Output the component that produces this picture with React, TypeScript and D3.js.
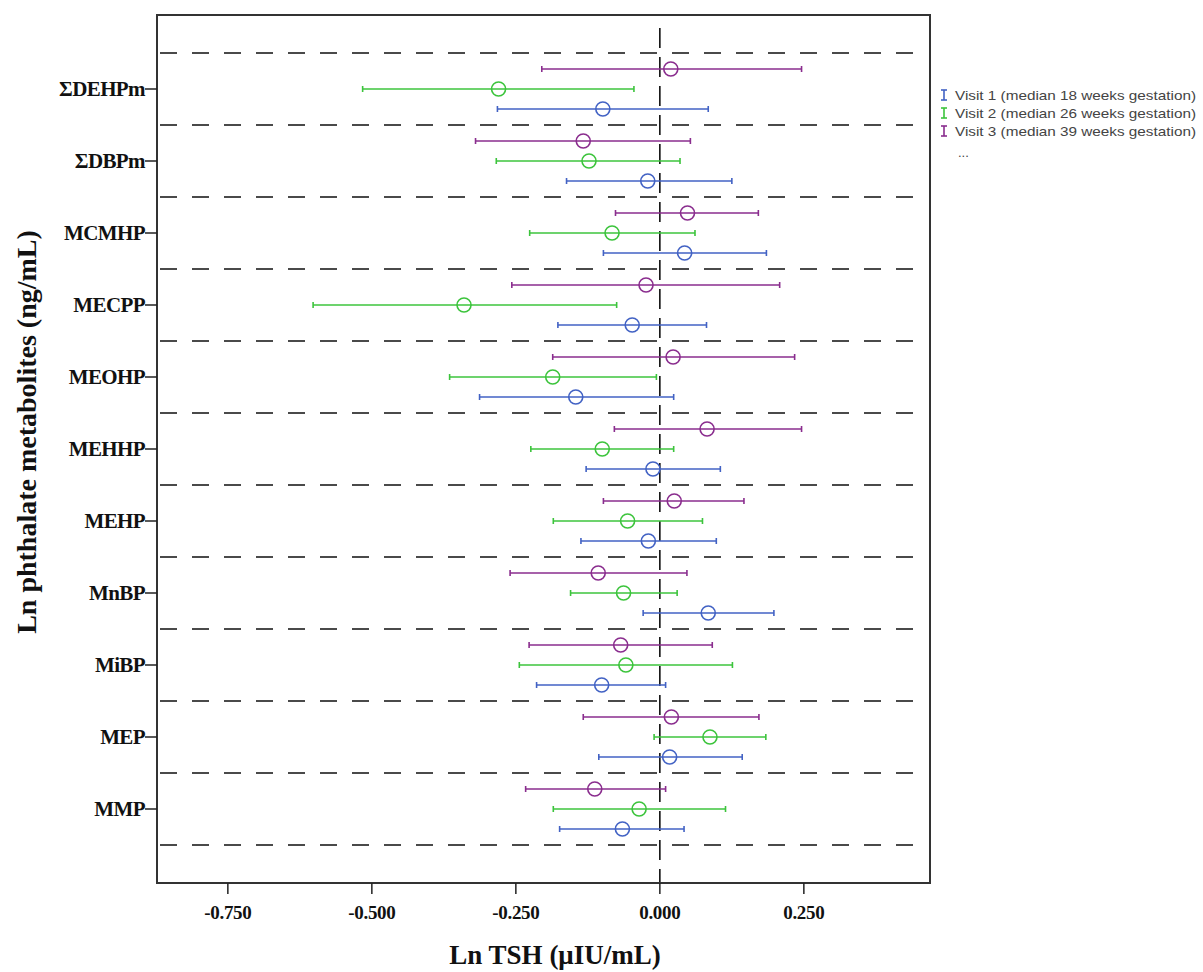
import * as d3 from "d3";
import React from "react";

// metabolites, top to bottom
const metabolites = ["ΣDEHPm", "ΣDBPm", "MCMHP", "MECPP", "MEOHP", "MEHHP", "MEHP", "MnBP", "MiBP", "MEP", "MMP"];

// estimates and 95% CI (Ln TSH)
const visit1Est = [-0.099, -0.021, 0.043, -0.048, -0.146, -0.012, -0.020, 0.084, -0.101, 0.017, -0.065];
const visit1Lo = [-0.282, -0.162, -0.098, -0.177, -0.313, -0.128, -0.137, -0.029, -0.214, -0.106, -0.174];
const visit1Hi = [0.084, 0.125, 0.185, 0.081, 0.024, 0.105, 0.098, 0.198, 0.010, 0.143, 0.042];

const visit2Est = [-0.280, -0.123, -0.083, -0.340, -0.186, -0.100, -0.056, -0.063, -0.059, 0.087, -0.036];
const visit2Lo = [-0.516, -0.284, -0.226, -0.602, -0.365, -0.224, -0.185, -0.155, -0.244, -0.010, -0.185];
const visit2Hi = [-0.045, 0.035, 0.061, -0.075, -0.006, 0.024, 0.074, 0.030, 0.126, 0.184, 0.114];

const visit3Est = [0.019, -0.133, 0.048, -0.024, 0.023, 0.082, 0.025, -0.107, -0.068, 0.020, -0.113];
const visit3Lo = [-0.205, -0.320, -0.077, -0.257, -0.186, -0.079, -0.098, -0.260, -0.227, -0.133, -0.233];
const visit3Hi = [0.246, 0.053, 0.171, 0.208, 0.234, 0.246, 0.146, 0.047, 0.091, 0.172, 0.010];

const visitLabels = [
  "Visit 1 (median 18 weeks gestation)",
  "Visit 2 (median 26 weeks gestation)",
  "Visit 3 (median 39 weeks gestation)",
];
const xTicks = [-0.75, -0.5, -0.25, 0, 0.25];

const colors = ["#4262c4", "#3cc43c", "#8a2d8e"];

const series = [
  { key: "v1", est: visit1Est, lo: visit1Lo, hi: visit1Hi, color: colors[0] },
  { key: "v2", est: visit2Est, lo: visit2Lo, hi: visit2Hi, color: colors[1] },
  { key: "v3", est: visit3Est, lo: visit3Lo, hi: visit3Hi, color: colors[2] },
];

const W = 1203;
const H = 972;
const plot = { left: 157, right: 930, top: 15, bottom: 883 };
const serif = "'Liberation Serif', 'Times New Roman', serif";
const sans = "'Liberation Sans', Arial, sans-serif";

// hyphen minus like the original software
const fmt = (t: number) => d3.format(".3f")(t).replace("\u2212", "-");

export default function App() {
  // x scale for Ln TSH
  const x = d3.scaleLinear().domain([-0.873, 0.469]).range([plot.left, plot.right]);
  // one band per metabolite
  const y = d3.scaleBand().domain(metabolites).range([53, 845]).padding(0);
  // visit 3 on top, visit 1 at bottom inside each band
  const inner = d3.scalePoint().domain(["v3", "v2", "v1"]).range([-20, 20]);

  const bounds = d3.range(metabolites.length + 1).map((i) => 53 + i * y.bandwidth());

  return (
    <svg width={W} height={H} style={{ position: "absolute", left: 0, top: 0, background: "#fff" }}>
      {/* separators */}
      {bounds.map((b, i) => (
        <line key={"sep" + i} x1={plot.left + 3} x2={plot.right - 2} y1={b} y2={b}
          stroke="#4a4a4a" strokeWidth={2} strokeDasharray="17,15" />
      ))}

      {/* zero reference */}
      <line x1={x(0)} x2={x(0)} y1={28} y2={plot.bottom} stroke="#000" strokeWidth={1.5} strokeDasharray="20,9" />

      {/* error bars */}
      {series.map((s) =>
        metabolites.map((m, i) => {
          const cy = (y(m) as number) + y.bandwidth() / 2 + (inner(s.key) as number);
          return (
            <g key={s.key + m}>
              <line x1={x(s.lo[i])} x2={x(s.hi[i])} y1={cy} y2={cy} stroke={s.color} strokeWidth={1.6} />
              <line x1={x(s.lo[i])} x2={x(s.lo[i])} y1={cy - 3} y2={cy + 3} stroke={s.color} strokeWidth={1.6} />
              <line x1={x(s.hi[i])} x2={x(s.hi[i])} y1={cy - 3} y2={cy + 3} stroke={s.color} strokeWidth={1.6} />
              <circle cx={x(s.est[i])} cy={cy} r={7} fill="none" stroke={s.color} strokeWidth={1.6} />
            </g>
          );
        })
      )}

      {/* frame */}
      <rect x={plot.left} y={plot.top} width={plot.right - plot.left} height={plot.bottom - plot.top}
        fill="none" stroke="#333" strokeWidth={2} />

      {/* y axis ticks and labels */}
      {metabolites.map((m) => {
        const cy = (y(m) as number) + y.bandwidth() / 2;
        return (
          <g key={"yl" + m}>
            <line x1={plot.left - 12} x2={plot.left} y1={cy} y2={cy} stroke="#222" strokeWidth={1.5} />
            <text x={plot.left - 12} y={cy} dy="0.35em" textAnchor="end" fontFamily={serif}
              fontWeight="bold" fontSize={21} letterSpacing={-0.6} fill="#111">{m}</text>
          </g>
        );
      })}

      {/* x axis ticks and labels */}
      {xTicks.map((t) => (
        <g key={"xt" + t}>
          <line x1={x(t)} x2={x(t)} y1={plot.bottom} y2={plot.bottom + 11} stroke="#222" strokeWidth={1.5} />
          <text x={x(t)} y={plot.bottom + 36} textAnchor="middle" fontFamily={serif} fontWeight="bold"
            fontSize={19} letterSpacing={-0.3} fill="#111">{fmt(t)}</text>
        </g>
      ))}

      {/* axis titles */}
      <text x={555} y={964} textAnchor="middle" fontFamily={serif} fontWeight="bold" fontSize={27} fill="#111">
        Ln TSH (μIU/mL)
      </text>
      <text transform="translate(36,432) rotate(-90)" textAnchor="middle" fontFamily={serif} fontWeight="bold"
        fontSize={28} fill="#111">
        Ln phthalate metabolites (ng/mL)
      </text>

      {/* legend */}
      {visitLabels.map((lab, i) => {
        const ly = 95 + i * 18;
        return (
          <g key={"lg" + i}>
            <line x1={944} x2={944} y1={ly - 5} y2={ly + 5} stroke={colors[i]} strokeWidth={1.6} />
            <line x1={941} x2={947} y1={ly - 5} y2={ly - 5} stroke={colors[i]} strokeWidth={1.6} />
            <line x1={941} x2={947} y1={ly + 5} y2={ly + 5} stroke={colors[i]} strokeWidth={1.6} />
            <text x={955} y={ly} dy="0.35em" fontFamily={sans} fontSize={13} textLength={241}
              lengthAdjust="spacingAndGlyphs" fill="#444">{lab}</text>
          </g>
        );
      })}
      <text x={958} y={152} dy="0.35em" fontFamily={sans} fontSize={13} fill="#444">...</text>
    </svg>
  );
}
